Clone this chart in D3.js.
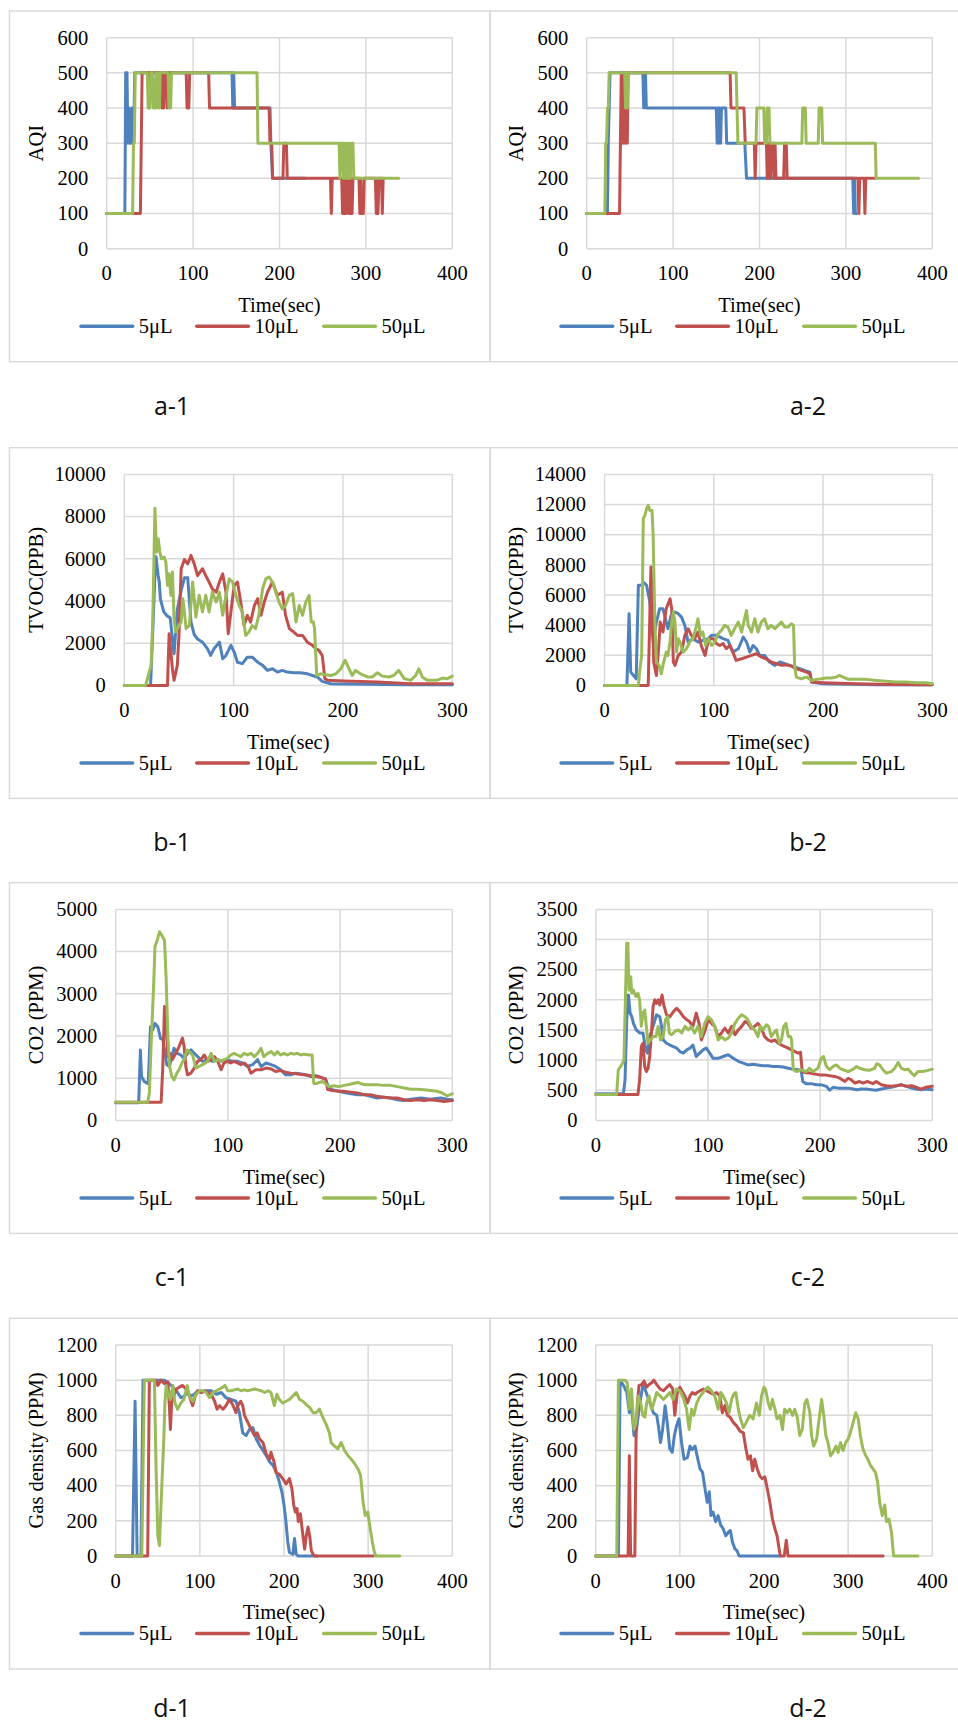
<!DOCTYPE html>
<html>
<head>
<meta charset="utf-8">
<script src="https://cdn.jsdelivr.net/npm/d3@7"></script>
<style>
  html, body { margin: 0; padding: 0; background: #fff; }
  svg { display: block; }
  svg text { font-family: 'Liberation Serif', 'Times New Roman', serif; }
  svg text.tag { font-family: 'Open Sans', sans-serif; }
</style>
</head>
<body>
<svg id="fig" width="958" height="1724"></svg>
<script>
// ---------------- series names & tick values ----------------
const seriesNames = ["5μL", "10μL", "50μL"];
const seriesColors = ["#4F81BD", "#C0504D", "#9BBB59"];

const timeTicks400 = [0, 100, 200, 300, 400];
const timeTicks300 = [0, 100, 200, 300];
const aqiTicks = [0, 100, 200, 300, 400, 500, 600];
const tvocTicks1 = [0, 2000, 4000, 6000, 8000, 10000];
const tvocTicks2 = [0, 2000, 4000, 6000, 8000, 10000, 12000, 14000];
const co2Ticks1 = [0, 1000, 2000, 3000, 4000, 5000];
const co2Ticks2 = [0, 500, 1000, 1500, 2000, 2500, 3000, 3500];
const gasTicks = [0, 200, 400, 600, 800, 1000, 1200];

// ---------------- a-1 : AQI ----------------
const aqi1_5 = [[0,100],[21,100],[22,500],[23.5,500],[24.5,300],[25.5,400],[26.5,300],[28,300],[29,400],[30,300],[31,300],[32.5,500],[145,500],[146,400],[147,500],[148,400],[189,400],[190,300],[192,200],[230,200]];
const aqi1_10 = [[0,100],[39,100],[40,300],[41,500],[48,500],[49,400],[50,500],[63,500],[64,400],[65,500],[66,400],[67,500],[69,500],[70,400],[71,500],[92,500],[93,400],[95,400],[96,500],[118,500],[119,400],[188,400],[189,300],[191,300],[192,200],[204,200],[205,300],[208,300],[209,200],[259,200],[260,100],[261,200],[272,200],[273,100],[274,200],[275,100],[276,200],[277,100],[278,200],[280,100],[281,200],[282,100],[283,200],[284,100],[285,200],[292,200],[293,100],[294,200],[295,100],[297,100],[298,200],[311,200],[312,100],[313,200],[314,100],[315,200],[318,200],[319,100],[320,200]];
const aqi1_50 = [[0,100],[30,100],[31,300],[32,300],[33,500],[47,500],[48,400],[50,400],[51,500],[53,500],[54,400],[56,400],[57,500],[58,400],[60,500],[61,400],[62,500],[71,500],[72,400],[74,400],[75,500],[174,500],[175,300],[269,300],[270,200],[271,300],[273,300],[274,200],[275,300],[276,200],[277,300],[278,200],[279,300],[280,200],[281,300],[282,200],[283,300],[285,300],[286,200],[338,200]];

// ---------------- a-2 : AQI ----------------
const aqi2_5 = [[0,100],[24,100],[25,300],[26,400],[27,500],[65,500],[66,400],[67,500],[68,500],[69,400],[150,400],[151,300],[152,400],[153,300],[154,400],[155,300],[156,400],[161,400],[162,300],[183,300],[185,200],[308,200],[309,100],[310,200],[311,100],[312,100]];
const aqi2_10 = [[0,100],[38,100],[39,300],[40,500],[41,300],[42,500],[43,300],[44,500],[45,300],[46,400],[47,300],[48,500],[166,500],[167,400],[182,400],[183.5,300],[194,300],[195,200],[196,300],[208,300],[209,200],[210,300],[211,200],[212,300],[213,200],[214,300],[216,300],[217,200],[218,300],[219,200],[228,200],[229,300],[231,300],[232,200],[314,200],[315,100],[316,200],[321,200],[322,100],[323,200],[334,200]];
const aqi2_50 = [[0,100],[21,100],[22,300],[23,300],[24,400],[25,400],[26,500],[44,500],[45,400],[46,500],[47,400],[48,500],[173,500],[174,400],[175,300],[196,300],[197,400],[205,400],[206,300],[208,300],[209,400],[211,400],[212,300],[249,300],[250,400],[253,400],[254,300],[268,300],[269,400],[272,400],[273,300],[334,300],[335,200],[384,200]];

// ---------------- b-1 : TVOC ----------------
const tvoc1_5 = [[0,0],[24,0],[26,2500],[28,5200],[29,6100],[31,5200],[32,4900],[33,4100],[36,3500],[39,3300],[42,3200],[45.5,1500],[48.5,3600],[52,4500],[55,5100],[58,5100],[61,3000],[64,2400],[67,2200],[71.5,2050],[76,1740],[79,1420],[82,1740],[87,2050],[90,1260],[93,1420],[97.5,1900],[100.5,1580],[103.5,1100],[108,1030],[112.5,1340],[117,1340],[122,1100],[126.5,950],[131,710],[135.5,790],[140,630],[144.5,710],[149,630],[155,600],[161,600],[167.5,550],[172,470],[176.5,400],[181,190],[189,80],[220,50],[260,30],[300,30]];
const tvoc1_10 = [[0,0],[39.5,0],[41,2450],[44,790],[45.5,240],[48.5,950],[50,2370],[52,5530],[55,5970],[58,5760],[61,6160],[64,5760],[67,5200],[71.5,5530],[74.5,5200],[77.5,4900],[80.5,4580],[84,4420],[87,4900],[90,5290],[93,4420],[95,2450],[97.5,3480],[100.5,4740],[103.5,4900],[106.5,3950],[109.5,2840],[112.5,3320],[115.5,3000],[119,3790],[122,4110],[125,3320],[128,3950],[131,4420],[135.5,4900],[140,4270],[144.5,4420],[147.5,3320],[151,2690],[155,2530],[158.5,2370],[163,2370],[167.5,2050],[172,1900],[175,1740],[178,1660],[181,1420],[183.5,320],[186,240],[201,210],[231.5,160],[262,80],[300,80]];
const tvoc1_50 = [[0,0],[19.5,0],[22,470],[24.5,950],[26,3000],[28,8400],[29.5,6320],[31,6950],[32.5,6320],[34,6000],[36.5,6080],[38,5850],[39.5,4740],[41,5290],[42.5,4270],[44,5370],[45.5,3160],[47,2530],[48.5,2690],[52,3000],[53.5,4110],[55,3480],[56.5,2690],[59.5,2850],[62.5,4900],[65.5,3240],[68.5,4270],[71.5,3480],[74.5,4270],[77.5,3480],[80.5,4420],[84,3950],[87,4420],[90,3320],[93,4270],[96,5050],[99,4900],[102,4270],[105,3790],[108,3480],[111,2370],[114,2530],[117,2840],[120,2690],[123,3320],[126.5,4580],[129.5,5060],[132.5,5140],[135.5,4900],[138.5,4420],[141.5,3950],[144.5,3630],[147.5,3790],[151,4270],[154,4350],[157,3000],[160,3790],[163,3320],[166,3950],[169,4270],[171,3000],[173,3000],[174,2690],[176,470],[179.5,550],[184,500],[189,470],[193.5,550],[198,790],[202,1190],[205.5,790],[208.5,470],[211.5,710],[216,550],[222.5,400],[227,400],[231.5,600],[236,440],[242,400],[246.5,470],[251,710],[256,320],[262,240],[266.5,470],[269.5,790],[272.5,400],[277,240],[282,240],[286,240],[291,350],[295.5,320],[300,440]];

// ---------------- b-2 : TVOC ----------------
const tvoc2_5 = [[0,0],[20.5,0],[22.5,4760],[24,880],[29,440],[31,6640],[34,6640],[35.5,6860],[38.5,6640],[41.5,5530],[44.5,2880],[47.5,4200],[50.5,5090],[53.5,5090],[55,4650],[58,3760],[61,4650],[64.5,4870],[67.5,4760],[70.5,4530],[73.5,3980],[76.5,2880],[81,3100],[85.5,2880],[90,2990],[95,3100],[98,3320],[102.5,3320],[108.5,3100],[113,2990],[117.5,2210],[122.5,2430],[127,3210],[130,2880],[133,2210],[136,2650],[139,2430],[142,1990],[146.5,1990],[151,1550],[156,1330],[160.5,1550],[165,1440],[169.5,1330],[174,1220],[178.5,1110],[183,990],[188,880],[189.5,220],[200,110],[250,50],[300,40]];
const tvoc2_10 = [[0,0],[40,0],[42.5,7850],[44,5530],[45,1550],[47.5,660],[49.5,2430],[51,4200],[53.5,3540],[56.5,5090],[60,5750],[61.5,5090],[63,1550],[64.5,1330],[67.5,1990],[70.5,2210],[73.5,3320],[76.5,3760],[79.5,3320],[82.5,3100],[85.5,3540],[88.5,2650],[92,1990],[94,2650],[96.5,3100],[99.5,3100],[102.5,2770],[105.5,2650],[108.5,2770],[111.5,2430],[114.5,2650],[117.5,2210],[120.5,1660],[125.5,1770],[130,1880],[134.5,1990],[139,2100],[143.5,1880],[148,1770],[152.5,1550],[157.5,1440],[162,1330],[166.5,1370],[171,1280],[175.5,1110],[180,1000],[185,880],[188,770],[189.5,220],[200,180],[230,110],[261,60],[300,40]];
const tvoc2_50 = [[0,0],[31,0],[32.5,1110],[34,1990],[35.5,11060],[37,11280],[38.5,11720],[40,11940],[41.5,11600],[43.5,11600],[44.5,9950],[46,4420],[47.5,1550],[50,1330],[52,770],[53.5,1330],[55,1770],[56.5,2210],[58,1990],[60,2880],[61.5,4200],[63,4870],[64.5,4200],[66,2210],[67.5,3100],[69,2880],[72,2210],[75,2430],[78,2880],[81,3100],[83.5,3760],[85.5,4420],[88,3320],[90,3540],[92.5,2650],[95,3100],[98,2650],[101,2880],[104,3430],[107,3650],[110,3980],[113,3870],[116,3320],[119,3760],[122.5,4200],[125.5,3540],[128.5,4530],[130,4980],[131.5,3980],[134.5,3540],[137.5,4420],[140.5,3540],[143.5,4200],[146.5,4420],[149.5,3760],[152.5,3980],[156,3760],[159,3980],[162,4200],[165,3870],[168,3870],[171,4090],[173,3980],[174,1330],[175.5,550],[180,440],[185,550],[189.5,330],[194,400],[198.5,440],[203,490],[207.5,490],[212,550],[215,660],[218.5,550],[223,400],[230.5,400],[239.5,400],[249,330],[258,270],[267,220],[276,220],[285.5,180],[294.5,180],[300,110]];

// ---------------- c-1 : CO2 ----------------
const co2_1_5 = [[0,420],[20.5,420],[22,1670],[23,1040],[25.5,920],[29,870],[31,2220],[33,2140],[35,2300],[37.5,2220],[40,1940],[42,1910],[44,1590],[45.5,1320],[48,1280],[50,1510],[52,1710],[55,1590],[58,1550],[61,1470],[64,1590],[67,1670],[70,1590],[73,1510],[77.5,1400],[82,1440],[86.5,1400],[91,1440],[95.5,1400],[99.5,1440],[104,1400],[108.5,1400],[113,1360],[117.5,1280],[122,1320],[126.5,1440],[129.5,1280],[134,1360],[138.5,1320],[142.5,1280],[147,1200],[151.5,1080],[156,1080],[160.5,1120],[165,1100],[169.5,1080],[174,1040],[178.5,1060],[183,1020],[187,980],[189.5,800],[193,730],[199,690],[203.5,660],[209.5,630],[215.5,610],[221.5,610],[227,570],[233,530],[239,550],[245,530],[251,490],[257,470],[263,500],[272,530],[280.5,500],[289.5,530],[295.5,500],[300,490]];
const co2_1_10 = [[0,430],[40.5,430],[42,1280],[43.5,2700],[45,2220],[46.5,1510],[48.5,1590],[50.5,1440],[53.5,1590],[56.5,1750],[59.5,1950],[61,1750],[62.5,1280],[64,1080],[67,1120],[70,1240],[73,1400],[76,1440],[79,1550],[82,1400],[85,1440],[88,1510],[91,1400],[94,1200],[96.5,1360],[99.5,1400],[102.5,1360],[105.5,1400],[108.5,1360],[111.5,1320],[114.5,1360],[118,1280],[120.5,1120],[125,1200],[129.5,1200],[134,1240],[138.5,1220],[142.5,1160],[147,1180],[151.5,1140],[156,1120],[162,1100],[168,1080],[174,1060],[180,1040],[187,980],[189,730],[193,710],[199,690],[203.5,690],[209.5,670],[215.5,650],[221.5,610],[227,610],[233,570],[239,550],[245,530],[251,530],[257,490],[263,470],[269,490],[275,470],[280.5,490],[286.5,470],[292.5,450],[300,470]];
const co2_1_50 = [[0,430],[28.5,430],[30,650],[31.5,1750],[34,3330],[35,4120],[37,4270],[39,4470],[41,4390],[43.5,4270],[45,3330],[46.5,1990],[48,1280],[50,1040],[52,960],[54.5,1120],[56.5,1200],[59,1360],[61,1440],[63.5,1670],[65.5,1630],[68.5,1550],[71.5,1240],[74.5,1280],[77.5,1320],[82,1400],[85,1590],[88,1400],[91,1440],[94,1400],[96.5,1440],[99.5,1470],[102.5,1550],[105.5,1590],[108.5,1550],[111.5,1510],[114.5,1590],[117.5,1550],[120.5,1590],[123.5,1510],[126.5,1590],[129.5,1710],[132,1510],[135.5,1590],[138.5,1630],[141.5,1550],[144,1630],[147,1550],[150,1590],[153,1550],[156,1590],[159,1570],[162,1590],[165,1550],[168,1570],[172.5,1550],[175,1550],[176.5,880],[178.5,870],[181.5,900],[184.5,920],[187,870],[190,800],[194.5,820],[199,800],[203.5,830],[208,850],[212.5,880],[215.5,900],[218.5,870],[223,845],[227.5,845],[233,845],[239,830],[245,830],[251,800],[257,770],[263,740],[269,740],[275,725],[280.5,710],[286.5,690],[291,650],[295.5,580],[300,630]];

// ---------------- c-2 : CO2 ----------------
const co2_2_5 = [[0,440],[24.5,440],[26,670],[27.5,1670],[29,2080],[30.5,1780],[32,1720],[33.5,1610],[36,1500],[39,1450],[42,1450],[44.5,1170],[46,1115],[48,1390],[51,1560],[54,1750],[57,1720],[58.5,1560],[60,1335],[63,1280],[66,1250],[69,1225],[72,1200],[75,1140],[78,1115],[81,1170],[84,1200],[86.5,1250],[89.5,1060],[92.5,1115],[95.5,1170],[98.5,1200],[101.5,1115],[104.5,1030],[109,1030],[113.5,1060],[118,1090],[122.5,1030],[127,980],[131.5,950],[135.5,920],[140,930],[144.5,920],[149,905],[153.5,905],[158,895],[162.5,895],[167,885],[171.5,865],[176,850],[180.5,840],[183,830],[184.5,645],[187.5,610],[192,610],[196.5,590],[201,590],[205.5,565],[208.5,500],[211.5,550],[216,535],[220.5,535],[225,535],[229.5,520],[233,510],[236.5,520],[241,520],[245.5,510],[250,500],[254.5,520],[259,535],[263.5,550],[268,575],[272.5,590],[277,565],[281.5,535],[285.5,520],[290,510],[294.5,520],[300,510]];
const co2_2_10 = [[0,430],[37.5,430],[39,670],[40.5,1225],[42,1280],[43.5,895],[45,810],[46.5,865],[48,1060],[49.5,1450],[51,1890],[52.5,2000],[54,1940],[55.5,2000],[57,1915],[59,2080],[60.5,1915],[63,1750],[66,1720],[69,1800],[72,1860],[75,1800],[78,1720],[81,1670],[83.5,1640],[86.5,1560],[89.5,1780],[92,1610],[94,1335],[97,1475],[100,1670],[103,1610],[106,1560],[109,1390],[112,1450],[115,1530],[118,1450],[121,1560],[124,1420],[127,1500],[130,1560],[133,1640],[135.5,1610],[138.5,1530],[141.5,1560],[144.5,1610],[147.5,1530],[150.5,1390],[153.5,1335],[156.5,1310],[159.5,1335],[162.5,1280],[165.5,1250],[168.5,1225],[171.5,1200],[174.5,1170],[177.5,1140],[180.5,1115],[182.5,1130],[184,810],[186,795],[190.5,785],[195,770],[199.5,755],[204,755],[208.5,740],[213,730],[217.5,700],[222,645],[225,700],[228,670],[231,620],[235,645],[238,620],[242.5,645],[247,610],[250,645],[254.5,590],[259,575],[263.5,565],[268,575],[272.5,590],[277,565],[281.5,575],[285.5,550],[290,520],[294.5,550],[300,565]];
const co2_2_50 = [[0,430],[18.5,430],[20,840],[23,920],[25,1000],[26,1780],[27.5,2940],[28.5,2940],[29.5,2160],[31,2385],[32,2110],[33.5,2160],[35,2080],[36,2055],[37.5,2110],[39,2000],[40.5,1560],[42,1780],[43.5,1830],[45,1560],[46.5,1280],[48.5,1335],[51,1390],[53.5,1390],[55.5,1560],[57.5,1335],[60,1390],[62,1670],[64,1720],[65.5,1450],[67.5,1420],[70.5,1475],[73.5,1500],[76.5,1450],[79.5,1560],[82.5,1500],[85,1560],[88,1450],[91,1560],[94,1390],[97,1610],[100,1720],[103,1670],[106,1560],[109,1335],[112,1390],[115,1335],[118,1365],[121,1450],[124,1610],[127,1695],[130,1750],[133,1720],[135.5,1670],[138.5,1560],[141.5,1500],[144.5,1390],[146.5,1560],[149,1500],[152,1585],[154,1560],[156.5,1390],[158.5,1450],[161,1500],[163.5,1280],[165.5,1335],[167.5,1560],[169.5,1610],[171.5,1390],[173.5,1390],[174.5,1335],[176,840],[179,810],[183,840],[187.5,810],[190.5,865],[193.5,810],[198,865],[201,1030],[203,1060],[205.5,895],[208.5,840],[211.5,895],[214.5,920],[217.5,865],[220.5,840],[225,810],[229.5,850],[232.5,895],[235,865],[239.5,840],[244,830],[248.5,865],[250.5,940],[253,920],[256,840],[259,785],[263.5,810],[266.5,865],[269.5,960],[272.5,865],[275.5,840],[278.5,850],[281.5,785],[284,740],[287,810],[291.5,810],[296,830],[300,850]];

// ---------------- d-1 : gas density ----------------
const gas1_5 = [[0,0],[20,0],[23,880],[25.5,0],[30,0],[32.5,1000],[58,1000],[62,985],[66,970],[70,950],[73.5,930],[77.5,900],[81.5,910],[85.5,930],[89.5,910],[93.5,920],[97.5,940],[101.5,930],[107.5,940],[113.5,940],[119.5,920],[125.5,930],[131,900],[137,890],[143,880],[147,815],[151,700],[155,685],[159,720],[163,730],[167,665],[171,630],[175,600],[179,570],[183,535],[187,515],[191,475],[194.5,420],[197.5,365],[200,290],[202,210],[204.5,80],[206.5,20],[210.5,10],[212.5,100],[214.5,10],[216.5,0],[240,0]];
const gas1_10 = [[0,0],[38,0],[40,1000],[48,1000],[50,970],[54,1000],[58,980],[62,990],[64,835],[65,720],[66.5,870],[69,910],[72,950],[75.5,960],[79.5,970],[83.5,950],[87.5,910],[91.5,855],[94.5,910],[97.5,940],[101.5,930],[105.5,940],[109.5,930],[113.5,920],[117.5,880],[120.5,835],[123.5,855],[127.5,835],[131,855],[135,890],[139,860],[143,815],[145,855],[148.5,880],[151,855],[153,800],[157,760],[161,720],[165,685],[168,700],[171,665],[175,645],[179,580],[183,550],[184.5,590],[188.5,530],[190.5,475],[194.5,465],[198.5,440],[202.5,410],[206.5,440],[209.5,380],[211.5,290],[213.5,250],[215.5,270],[217,195],[219.5,240],[222,135],[224.5,40],[226.5,115],[228.5,165],[230.5,115],[232.5,30],[234.5,10],[236.5,0],[306,0]];
const gas1_50 = [[0,0],[31,0],[34,1000],[46,1000],[48,495],[50,120],[52,60],[54,305],[56,535],[57,645],[58.5,870],[60,970],[62,930],[65,890],[68,970],[70.5,870],[73.5,835],[77.5,870],[81,890],[85,970],[87.5,910],[91.5,880],[95.5,920],[99.5,940],[103.5,940],[107.5,930],[111.5,900],[115.5,930],[119.5,940],[123.5,950],[127.5,960],[130,970],[133,940],[137,940],[141,945],[145,950],[149,940],[153,945],[157,940],[161,945],[165,950],[169,945],[173,940],[177,930],[181,940],[184.5,930],[188.5,855],[191.5,920],[194.5,890],[198.5,870],[202.5,880],[206.5,890],[210.5,910],[214.5,930],[218.5,890],[222.5,880],[226.5,860],[230.5,845],[234.5,815],[238,815],[242,835],[246,790],[250,750],[254,700],[256,645],[260,625],[264,610],[268,645],[272,600],[276,570],[280,550],[284,525],[288,495],[291,460],[294,305],[296.5,230],[299.5,250],[302.5,155],[305,80],[307.5,20],[309.5,0],[337.5,0]];

// ---------------- d-2 : gas density ----------------
const gas2_5 = [[0,0],[27,0],[29,1000],[33,970],[37,930],[40,815],[42.5,870],[45.5,685],[48.5,720],[52.5,870],[56,970],[58.5,950],[61.5,910],[64.5,870],[68.5,815],[72.5,800],[74.5,740],[77,645],[79.5,720],[82.5,855],[85,760],[88,610],[91,590],[93.5,685],[96,740],[99,780],[102,645],[105,550],[109,560],[112,625],[114.5,605],[118,625],[120.5,570],[124,495],[127,475],[130,380],[132.5,305],[135,365],[137,230],[139.5,250],[142.5,195],[145.5,230],[148.5,175],[151.5,155],[154.5,115],[157.5,135],[160,145],[162.5,80],[165.5,40],[168,30],[170.5,0],[219,0]];
const gas2_10 = [[0,0],[38.5,0],[40,570],[41.5,0],[46.5,0],[48,685],[49.5,870],[51.5,970],[54.5,975],[57.5,995],[60.5,960],[63.5,975],[66.5,985],[69,1000],[72.5,975],[76.5,950],[80.5,940],[84.5,960],[88,975],[91.5,950],[94,800],[97,930],[100,960],[103.5,930],[106,910],[109,870],[112,910],[115,930],[118,920],[120.5,930],[124,940],[128,950],[131.5,940],[135.5,930],[139.5,920],[143.5,930],[147.5,910],[150.5,815],[153.5,855],[156.5,800],[159.5,790],[163.5,760],[167.5,740],[171.5,710],[175.5,700],[178.5,610],[181,550],[184,570],[186.5,485],[189,550],[192,495],[195,455],[198,440],[201,450],[204,380],[207,305],[210,210],[213,155],[215.5,115],[218,40],[219.5,0],[224,0],[226.5,90],[228.5,0],[341.5,0]];
const gas2_50 = [[0,0],[25,0],[27,1000],[35,1000],[37.5,985],[40,835],[42.5,950],[45.5,720],[48,760],[50.5,910],[53.5,870],[56,800],[58.5,790],[60.5,870],[63.5,910],[66.5,835],[69,870],[72.5,930],[76.5,910],[80.5,890],[84.5,910],[88,930],[92,890],[96,950],[100,940],[104,900],[108,835],[111,720],[114,835],[116.5,800],[120,870],[123,900],[126,920],[130,945],[133.5,960],[137.5,940],[141.5,910],[145.5,835],[148.5,930],[151.5,910],[155.5,870],[158.5,815],[161.5,890],[164,920],[166.5,930],[169.5,835],[172,780],[175.5,730],[179,760],[183,800],[187,780],[191,870],[194.5,800],[197,910],[200,960],[202,945],[205,870],[207.5,835],[210,890],[213,835],[215.5,780],[219,800],[222,720],[224.5,835],[227.5,815],[230.5,835],[234,800],[236.5,835],[239.5,790],[242.5,685],[245.5,720],[248.5,870],[251,890],[254.5,815],[256.5,685],[259,625],[262.5,665],[265.5,780],[268.5,890],[271,800],[273.5,685],[276,645],[279,570],[282,590],[285.5,625],[288,590],[291,645],[294,600],[297,645],[300,665],[302.5,700],[306,760],[309,815],[312,780],[314.5,685],[317.5,610],[321,570],[323.5,550],[326.5,515],[329.5,495],[332.5,475],[335,420],[337.5,305],[340.5,230],[343.5,290],[345.5,195],[348.5,210],[351.5,135],[354,0],[383,0]];

// ---------------- panel definitions ----------------
const panels = [
  { tag: "a-1", col: 0, row: 0, xTicks: timeTicks400, yTicks: aqiTicks,   yTitle: "AQI",               data: [aqi1_5, aqi1_10, aqi1_50],   left: 106.7 },
  { tag: "a-2", col: 1, row: 0, xTicks: timeTicks400, yTicks: aqiTicks,   yTitle: "AQI",               data: [aqi2_5, aqi2_10, aqi2_50],   left: 106.7 },
  { tag: "b-1", col: 0, row: 1, xTicks: timeTicks300, yTicks: tvocTicks1, yTitle: "TVOC(PPB)",         data: [tvoc1_5, tvoc1_10, tvoc1_50], left: 124.3 },
  { tag: "b-2", col: 1, row: 1, xTicks: timeTicks300, yTicks: tvocTicks2, yTitle: "TVOC(PPB)",         data: [tvoc2_5, tvoc2_10, tvoc2_50], left: 124.5 },
  { tag: "c-1", col: 0, row: 2, xTicks: timeTicks300, yTicks: co2Ticks1,  yTitle: "CO2 (PPM)",         data: [co2_1_5, co2_1_10, co2_1_50], left: 115.7 },
  { tag: "c-2", col: 1, row: 2, xTicks: timeTicks300, yTicks: co2Ticks2,  yTitle: "CO2 (PPM)",         data: [co2_2_5, co2_2_10, co2_2_50], left: 115.9 },
  { tag: "d-1", col: 0, row: 3, xTicks: timeTicks400, yTicks: gasTicks,   yTitle: "Gas density (PPM)", data: [gas1_5, gas1_10, gas1_50],   left: 115.7 },
  { tag: "d-2", col: 1, row: 3, xTicks: timeTicks400, yTicks: gasTicks,   yTitle: "Gas density (PPM)", data: [gas2_5, gas2_10, gas2_50],   left: 115.7 }
];

// ---------------- layout ----------------
const H = 1724;
const colX = [0, 480];
const boxTop = [11, 447.7, 882.7, 1318.3];
const boxH = 350.7;
const plotRight = 452.3;
const plotTopOff = 26.7;
const plotH = 211;
const serif = "'Liberation Serif', 'Times New Roman', serif";
const fontPx = 20.5;
const gridColor = "#d9d9d9";
const legendX = [81, 196.7, 323.7];      // start of each legend swatch
const legendLineLen = 51.7;
const tagX = [172, 808];

const svg = d3.select("#fig");

// small helper: serif text node
function serifText(sel, xPos, yPos, str, anchor) {
  return sel.append("text").attr("x", xPos).attr("y", yPos)
    .attr("text-anchor", anchor || "start")
    .attr("font-family", serif).attr("font-size", fontPx)
    .style("font-family", serif).style("font-size", fontPx + "px")
    .attr("fill", "#000").text(str);
}

// frame boxes (left column, right column)
boxTop.forEach(t => {
  svg.append("rect").attr("x", 9.5).attr("y", t).attr("width", 480.5).attr("height", boxH)
    .attr("fill", "none").attr("stroke", gridColor).attr("stroke-width", 1.4);
  svg.append("rect").attr("x", 490).attr("y", t).attr("width", 480).attr("height", boxH)
    .attr("fill", "none").attr("stroke", gridColor).attr("stroke-width", 1.4);
});

panels.forEach(p => {
  const ox = colX[p.col];
  const top = boxTop[p.row] + plotTopOff;
  const x0 = ox + p.left, x1 = ox + plotRight;
  const y0 = top + plotH;

  const x = d3.scaleLinear().domain([p.xTicks[0], p.xTicks[p.xTicks.length - 1]]).range([x0, x1]);
  const y = d3.scaleLinear().domain([p.yTicks[0], p.yTicks[p.yTicks.length - 1]]).range([y0, top]);

  const g = svg.append("g");

  // gridlines
  g.append("g").selectAll("line").data(p.yTicks).join("line")
    .attr("x1", x0).attr("x2", x1).attr("y1", d => y(d)).attr("y2", d => y(d))
    .attr("stroke", gridColor).attr("stroke-width", 1.5);
  g.append("g").selectAll("line").data(p.xTicks).join("line")
    .attr("y1", top).attr("y2", y0).attr("x1", d => x(d)).attr("x2", d => x(d))
    .attr("stroke", gridColor).attr("stroke-width", 1.5);

  // tick labels positioned by the scales
  p.xTicks.forEach(t => serifText(g, x(t), y0 + 31.6, String(t), "middle"));
  p.yTicks.forEach(t => serifText(g, x0 - 18.5, y(t) + 6.8, String(t), "end"));

  // series
  const line = d3.line().x(d => x(d[0])).y(d => y(d[1]));
  p.data.forEach((s, i) => {
    g.append("path").datum(s).attr("d", line)
      .attr("fill", "none").attr("stroke", seriesColors[i]).attr("stroke-width", 3)
      .attr("stroke-linejoin", "round").attr("stroke-linecap", "round");
  });

  // axis titles
  serifText(g, (x0 + x1) / 2, boxTop[p.row] + 301, "Time(sec)", "middle");
  serifText(g, 0, 0, p.yTitle, "middle")
    .attr("transform", `translate(${ox + 42.6},${(top + y0) / 2}) rotate(-90)`);

  // legend
  const ly = boxTop[p.row] + 315.2;
  seriesNames.forEach((name, i) => {
    const lx = ox + legendX[i];
    g.append("line").attr("x1", lx).attr("x2", lx + legendLineLen).attr("y1", ly).attr("y2", ly)
      .attr("stroke", seriesColors[i]).attr("stroke-width", 3.5).attr("stroke-linecap", "round");
    serifText(g, lx + legendLineLen + 6, ly + 6.8, name, "start");
  });

  // panel tag below the frame (kept inside the canvas)
  const tagY = Math.min(boxTop[p.row] + boxH + 53, H - 7);
  svg.append("text").attr("class", "tag").attr("x", tagX[p.col]).attr("y", tagY)
    .attr("text-anchor", "middle")
    .style("font-family", "'Open Sans', sans-serif").style("font-size", "25px")
    .attr("fill", "#111").text(p.tag);
});
</script>
</body>
</html>
